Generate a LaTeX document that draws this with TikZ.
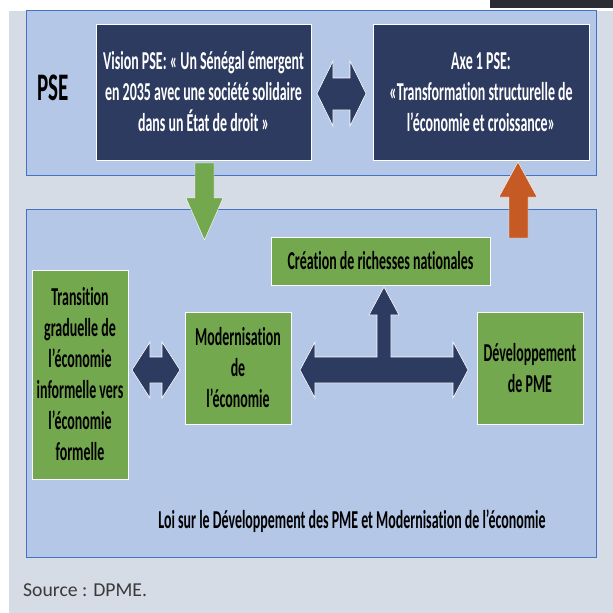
\documentclass[tikz,border=0pt]{standalone}
\usepackage{fontspec}
\setmainfont{Carlito}[Ligatures=NoCommon]
\newfontfamily\cf[FakeStretch=0.54,Ligatures=NoCommon]{Carlito}
\definecolor{bg}{HTML}{D6DCE5}
\definecolor{panel}{HTML}{B4C7E7}
\definecolor{panelline}{HTML}{4472C4}
\definecolor{navy}{HTML}{2E3B60}
\definecolor{grn}{HTML}{74A84E}
\definecolor{org}{HTML}{C55A24}
\definecolor{topbar}{HTML}{2B2D35}
\definecolor{srctext}{HTML}{3A3A3A}
\tikzset{
  panelbox/.style={fill=panel, draw=panelline, line width=0.8pt, inner sep=0pt, minimum width=570pt},
  txt/.style={font=\cf\bfseries\fontsize{25.8pt}{31pt}\selectfont, align=center},
  navybox/.style={txt, fill=navy, draw=white, line width=0.6pt, text=white, inner sep=0pt},
  greenbox/.style={txt, fill=grn, draw=white, line width=0.6pt, text=black, inner sep=0pt},
  navyarrow/.style={fill=navy, draw=white, line width=0.6pt, line join=miter},
  grnarrow/.style={fill=grn, draw=white, line width=0.4pt},
  orgarrow/.style={fill=org, draw=white, line width=0.4pt},
}
\begin{document}
\begin{tikzpicture}[x=1pt,y=-1pt]
\useasboundingbox (0,0) rectangle (613,613);
\fill[white] (0,0) rectangle (613,613);
\fill[bg] (9,11) rectangle (613,613);
\fill[topbar] (490,0) rectangle (613,8);

% panels
\node[panelbox, minimum height=165pt] (pse) at (311,92.5) {};
\node[panelbox, minimum height=348pt] (loi) at (311,383) {};

% top row
\node[font=\cf\bfseries\fontsize{39pt}{47pt}\selectfont] (pselabel) at (53,88) {PSE};
\node[navybox, minimum width=215pt, minimum height=136pt] (vision) at (203.5,92)
  {Vision PSE: « Un Sénégal émergent\\en 2035 avec une société solidaire\\dans un État de droit »};
\node[navybox, minimum width=216pt, minimum height=136pt] (axe) at (481,92)
  {Axe 1 PSE:\\«Transformation structurelle de\\l’économie et croissance»};

% lower row
\node[greenbox, minimum width=219pt, minimum height=48pt] (creation) at (380.5,261)
  {Création de richesses nationales};
\node[greenbox, minimum width=96pt, minimum height=209pt] (transition) at (80,374.5)
  {Transition\\graduelle de\\l’économie\\informelle vers\\l’économie\\formelle};
\node[greenbox, minimum width=106pt, minimum height=112pt] (modern) at (238,368)
  {Modernisation\\de\\l’économie};
\node[greenbox, minimum width=106pt, minimum height=112pt] (dev) at (530,368)
  {Développement\\de PME};

\node[txt, text=black] (loitext) at (352,521)
  {Loi sur le Développement des PME et Modernisation de l’économie};
\node[anchor=west, inner sep=0pt, text=srctext, font=\fontsize{19.7pt}{24pt}\selectfont] (source) at (23,590)
  {Source : DPME.};

% block arrows
\filldraw[navyarrow] (317,93.5) -- (333,61) -- (333,78) -- (350,78) -- (350,61) -- (366,93.5)
  -- (350,126) -- (350,110) -- (333,110) -- (333,126) -- cycle;
\filldraw[grnarrow] (195,163) -- (214,163) -- (214,198) -- (223,198) -- (204.5,240)
  -- (186,198) -- (195,198) -- cycle;
\filldraw[orgarrow] (509,238) -- (509,197) -- (499,197) -- (518,162) -- (537,197)
  -- (528,197) -- (528,238) -- cycle;
\filldraw[navyarrow] (132,370) -- (150,342) -- (150,357) -- (162,357) -- (162,342) -- (180,370)
  -- (162,398) -- (162,383) -- (150,383) -- (150,398) -- cycle;
\filldraw[navyarrow] (300,370) -- (315,342) -- (315,357) -- (377,357) -- (377,315) -- (369,315)
  -- (384,287) -- (399,315) -- (391,315) -- (391,357) -- (453,357) -- (453,342) -- (468,370)
  -- (453,398) -- (453,383) -- (315,383) -- (315,398) -- cycle;
\end{tikzpicture}
\end{document}
